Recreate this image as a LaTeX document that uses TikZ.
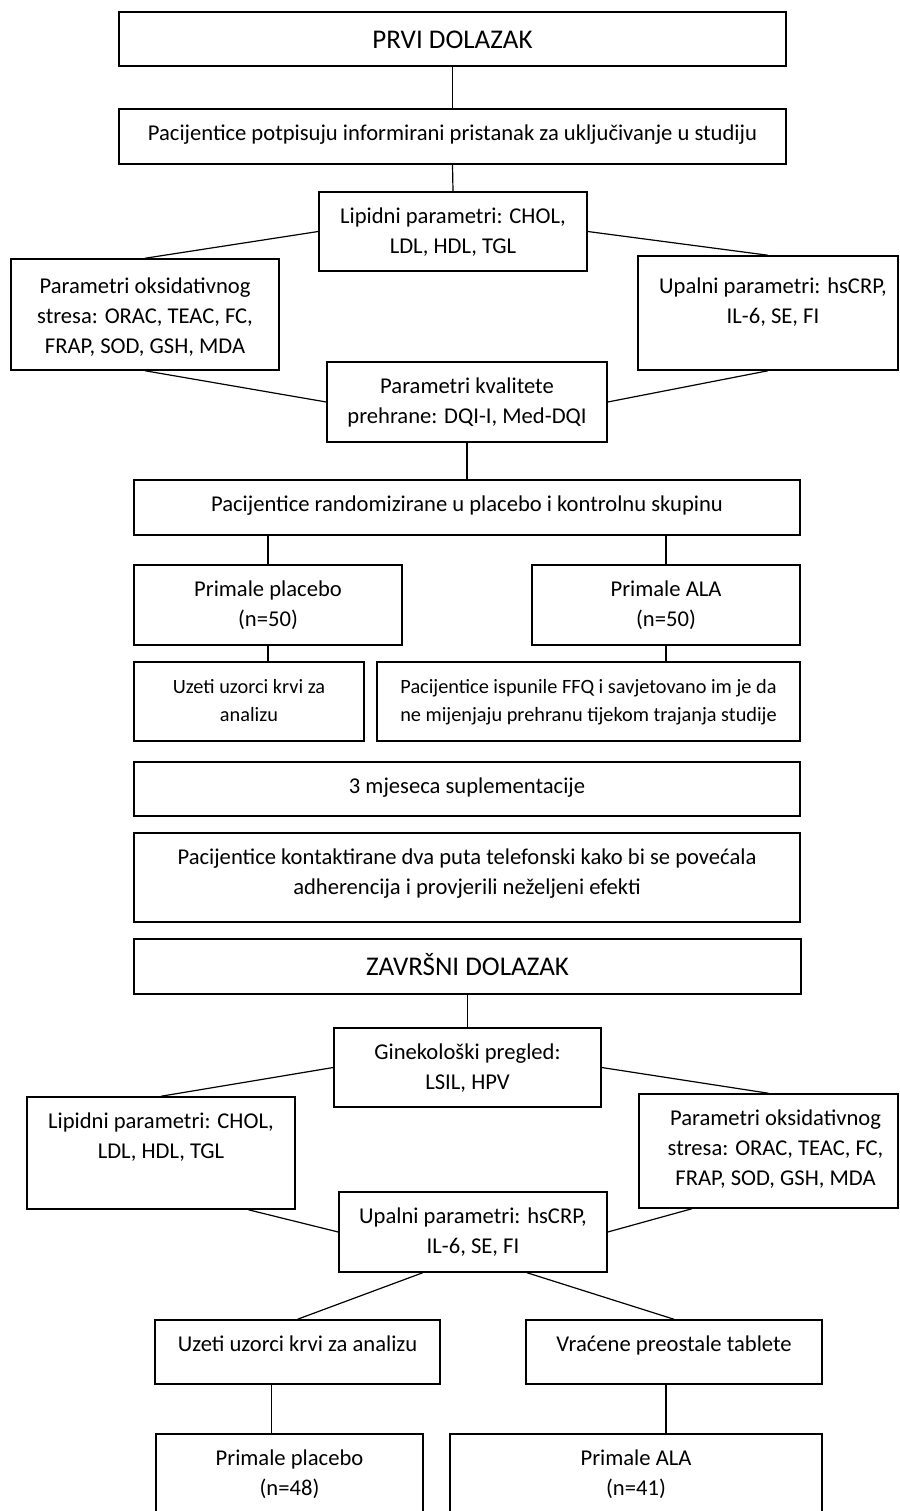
\documentclass[tikz,border=0pt]{standalone}
\usepackage{fontspec}
\setmainfont{Carlito}
\usetikzlibrary{positioning,calc,fit}

\tikzset{
  frame/.style={draw, line width=1.5pt, inner sep=0pt},
  txt/.style={anchor=base, align=flush center, inner sep=0pt, text width=640pt,
    font=\fontsize{22.6}{30}\selectfont},
  small/.style={font=\fontsize{20.3}{28.5}\selectfont},
  title/.style={font=\fontsize{27}{36}\selectfont, yshift=-5pt},
  link/.style={line width=1.2pt},
}

% box from corner to corner, text hung from its top
\newcommand{\flowbox}[5][]{%
  \node[frame, fit={(#3) (#4)}] (#2) {};
  \node[txt, #1] (#2-t) at ([yshift=-32pt]#2.north) {#5};
}

\begin{document}
\begin{tikzpicture}[x=1pt,y=-1pt]
  \path[use as bounding box, fill=white] (0,0) rectangle (899,1511);
  \clip (0,0) rectangle (899,1511);

  % first visit
  \flowbox[title]{prvi}{119,12}{786,66}{PRVI DOLAZAK}
  \flowbox{pristanak}{119,109}{786,164}{Pacijentice potpisuju informirani pristanak za uključivanje u studiju}
  \flowbox{lipidi1}{319,192}{587,271}{Lipidni parametri: CHOL,\\ LDL, HDL, TGL}
  \flowbox[yshift=-3pt]{oksid1}{11,259}{279,370}{Parametri oksidativnog\\ stresa: ORAC, TEAC, FC,\\ FRAP, SOD, GSH, MDA}
  \flowbox[xshift=5pt, yshift=-6pt]{upala1}{638,256}{898,370}{Upalni parametri: hsCRP,\\ IL-6, SE, FI}
  \flowbox{kvaliteta}{327,362}{607,442}{Parametri kvalitete\\ prehrane: DQI-I, Med-DQI}
  \flowbox{random}{134,480}{800,535}{Pacijentice randomizirane u placebo i kontrolnu skupinu}
  \flowbox{placebo1}{134,565}{402,645}{Primale placebo\\ (n=50)}
  \flowbox{ala1}{532,565}{800,645}{Primale ALA\\ (n=50)}
  \flowbox[small]{uzorci1}{134,662}{364,741}{Uzeti uzorci krvi za\\ analizu}
  \flowbox[small]{ffq}{377,662}{800,741}{Pacijentice ispunile FFQ i savjetovano im je da\\ ne mijenjaju prehranu tijekom trajanja studije}
  \flowbox{supl}{134,762}{800,816}{3 mjeseca suplementacije}
  \flowbox{kontakt}{134,833}{800,922}{Pacijentice kontaktirane dva puta telefonski kako bi se povećala\\ adherencija i provjerili neželjeni efekti}

  % final visit
  \flowbox[title]{zavrsni}{134,939}{801,994}{ZAVRŠNI DOLAZAK}
  \flowbox{gineko}{334,1028}{601,1107}{Ginekološki pregled:\\ LSIL, HPV}
  \flowbox{lipidi2}{27,1097}{295,1209}{Lipidni parametri: CHOL,\\ LDL, HDL, TGL}
  \flowbox[xshift=7pt]{oksid2}{639,1094}{898,1208}{Parametri oksidativnog\\ stresa: ORAC, TEAC, FC,\\ FRAP, SOD, GSH, MDA}
  \flowbox{upala2}{339,1192}{607,1272}{Upalni parametri: hsCRP,\\ IL-6, SE, FI}
  \flowbox{uzorci2}{155,1320}{440,1384}{Uzeti uzorci krvi za analizu}
  \flowbox{tablete}{526,1320}{822,1384}{Vraćene preostale tablete}
  \flowbox{placebo2}{156,1434}{423,1530}{Primale placebo\\ (n=48)}
  \flowbox{ala2}{450,1434}{822,1530}{Primale ALA\\ (n=41)}

  % connectors
  \draw[link] (prvi.south) -- (pristanak.north);
  \draw[link] (pristanak.south) -- (lipidi1.north);
  \draw[link] (lipidi1.west) -- (oksid1.north);
  \draw[link] (lipidi1.east) -- (upala1.north);
  \draw[link] (oksid1.south) -- (kvaliteta.west);
  \draw[link] (upala1.south) -- (kvaliteta.east);
  \draw[link] (kvaliteta.south) -- (random.north);
  \draw[link] (placebo1.north |- random.south) -- (placebo1.north);
  \draw[link] (ala1.north |- random.south) -- (ala1.north);
  \draw[link] (placebo1.south) -- (placebo1.south |- uzorci1.north);
  \draw[link] (ala1.south) -- (ala1.south |- ffq.north);
  \draw[link] (zavrsni.south) -- (gineko.north);
  \draw[link] (gineko.west) -- (lipidi2.north);
  \draw[link] (gineko.east) -- (oksid2.north);
  \draw[link] (lipidi2.-33) -- (upala2.west);
  \draw[link] (oksid2.217) -- (upala2.east);
  \draw[link] (upala2.-141) -- (uzorci2.north);
  \draw[link] (upala2.-37) -- (tablete.north);
  \draw[link] ([xshift=-26pt]uzorci2.south) -- ([xshift=-26pt]uzorci2.south |- placebo2.north);
  \draw[link] ([xshift=-8pt]tablete.south) -- ([xshift=-8pt]tablete.south |- ala2.north);
\end{tikzpicture}
\end{document}
